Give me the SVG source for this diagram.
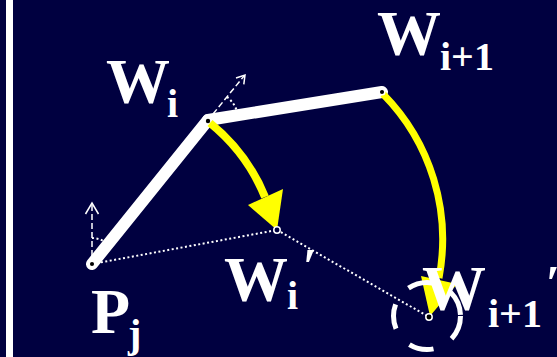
<svg xmlns="http://www.w3.org/2000/svg" width="557" height="357" viewBox="0 0 557 357">
<style>
.lbl{font-family:"Liberation Serif","Times New Roman",serif;font-weight:bold;fill:#fff}
.big{font-size:64px}
.sub{font-size:40px}
.prm{font-size:50px}
.link{stroke:#fff;stroke-width:12;stroke-linecap:round;fill:none}
.dot{stroke:#fff;stroke-width:2;stroke-dasharray:2 2.5;fill:none}
.dash{stroke:#fff;stroke-width:1.5;stroke-dasharray:6 3;fill:none}
.wing{stroke:#fff;stroke-width:1.5;fill:none}
.arc{stroke:#ff0;fill:none}
.head{fill:#ff0}
</style>
<rect x="0" y="0" width="557" height="357" fill="#000040"/>
<rect x="6" y="0" width="7" height="357" fill="#fff"/>
<g id="connectors">
  <path class="dot" d="M92 264 L277 230"/>
  <path class="dot" d="M277 230 L429 317"/>
  <path class="dash" d="M92 256 L92 205"/>
  <polyline class="wing" points="85.5,214 92,203 98.5,214"/>
  <path class="dot" d="M92 238 A26 26 0 0 1 108 244"/>
  <path class="dash" d="M213 114 L244 76"/>
  <polyline class="wing" points="236,78 245,75 243.8,84.4"/>
  <path class="dot" d="M227 97 A30 30 0 0 1 238 115"/>
</g>
<g id="links">
  <line class="link" x1="92" y1="264" x2="208" y2="120"/>
  <line class="link" x1="208" y1="120" x2="382" y2="92"/>
</g>
<g id="arrow-wi">
  <path class="arc" stroke-width="8" d="M210 123 A185 185 0 0 1 265 197"/>
  <polygon class="head" points="248,205 283,189 277,230"/>
</g>
<g id="arrow-wi1">
  <path class="arc" stroke-width="7" d="M383 94 A207 207 0 0 1 439 278"/>
  <polygon class="head" points="421,276 457,284 430,316"/>
</g>
<g id="target">
  <circle cx="427" cy="316" r="33.5" fill="none" stroke="#fff" stroke-width="5" stroke-dasharray="25 21"/>
</g>
<g id="node-pj">
  <circle cx="92" cy="264" r="2.8" fill="#000" stroke="#fff" stroke-width="1.5"/>
  <text class="lbl big" x="91" y="333">P</text>
  <text class="lbl sub" x="128" y="347">j</text>
</g>
<g id="node-wi">
  <circle cx="208" cy="121" r="2.2" fill="#000"/>
  <text class="lbl big" x="106" y="103">W</text>
  <text class="lbl sub" x="167" y="117">i</text>
</g>
<g id="node-wi1">
  <circle cx="382" cy="92" r="2.8" fill="#000" stroke="#fff" stroke-width="1.5"/>
  <text class="lbl big" x="377" y="55">W</text>
  <text class="lbl sub" x="440" y="70">i+1</text>
</g>
<g id="node-wip">
  <circle cx="277" cy="230" r="3.2" fill="#000040" stroke="#fff" stroke-width="1.5"/>
  <text class="lbl big" x="224" y="301">W</text>
  <text class="lbl sub" x="287" y="309">i</text>
  <text class="lbl prm" x="303" y="283">′</text>
</g>
<g id="node-wi1p">
  <circle cx="429" cy="317" r="3.2" fill="#000" stroke="#fff" stroke-width="1.5"/>
  <text class="lbl big" x="422" y="310">W</text>
  <text class="lbl sub" x="488" y="327">i+1</text>
  <text class="lbl prm" x="546" y="300">′</text>
</g>
</svg>
